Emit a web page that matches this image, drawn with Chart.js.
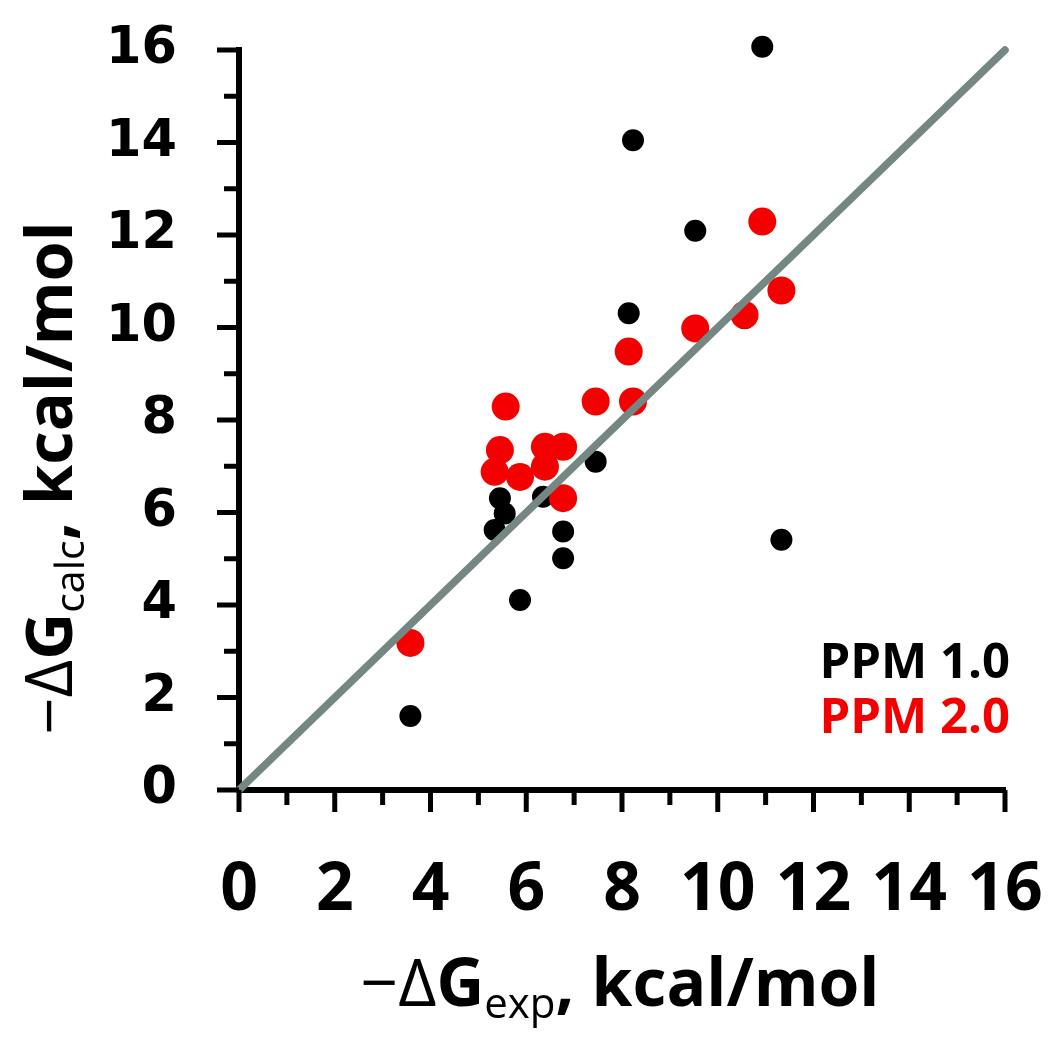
<!DOCTYPE html>
<html>
<head>
<meta charset="utf-8">
<script src="https://cdn.jsdelivr.net/npm/chart.js@4"></script>
<style>
  body { margin: 0; background: #fff; }
  #wrap { width: 1050px; height: 1037px; position: relative; }
</style>
</head>
<body>
<div id="wrap"><canvas id="myChart"></canvas></div>
<script>
// -dG exp / -dG calc, kcal/mol
var ppm1X = [3.58, 5.34, 5.45, 5.55, 5.87, 6.35, 6.77, 6.77, 7.45, 8.14, 8.23, 9.53, 10.56, 10.93, 11.33];
var ppm1Y = [1.60, 5.62, 6.31, 5.98, 4.11, 6.34, 5.59, 5.01, 7.10, 10.31, 14.05, 12.09, 10.20, 16.07, 5.41];
var ppm2X = [3.58, 5.34, 5.45, 5.57, 5.87, 6.39, 6.39, 6.77, 6.77, 7.45, 8.14, 8.23, 9.53, 10.56, 10.93, 11.33];
var ppm2Y = [3.18, 6.88, 7.35, 8.29, 6.77, 7.42, 6.99, 7.42, 6.31, 8.40, 9.48, 8.40, 9.98, 10.27, 12.29, 10.80];
var diagX = [0, 16];
var diagY = [0, 16];
var tickValues = [0, 2, 4, 6, 8, 10, 12, 14, 16];

function pts(xs, ys) {
  return xs.map((x, i) => ({x: x, y: ys[i]}));
}

// minor + major tick marks, drawn from the scales
const axisTicks = {
  id: "axisTicks",
  afterDraw(chart) {
    const ctx = chart.ctx, xs = chart.scales.x, ys = chart.scales.y;
    const x0 = xs.getPixelForValue(0), y0 = ys.getPixelForValue(0);
    ctx.save();
    ctx.strokeStyle = "#000";
    ctx.lineWidth = 5;
    for (let v = 0; v <= 16; v++) {
      const len = v % 2 === 0 ? 22 : 15;
      const px = xs.getPixelForValue(v);
      ctx.beginPath(); ctx.moveTo(px, y0); ctx.lineTo(px, y0 + len); ctx.stroke();
      const py = ys.getPixelForValue(v);
      ctx.beginPath(); ctx.moveTo(x0, py); ctx.lineTo(x0 - len, py); ctx.stroke();
    }
    ctx.restore();
  }
};

function drawTitle(ctx, cx, base, sub, size) {
  const parts = [
    {t: "\u2212\u0394", f: "400 " + size + "px 'Open Sans'", dy: 0},
    {t: "G", f: "700 " + size + "px 'Open Sans'", dy: 0},
    {t: sub, f: "400 " + Math.round(size * 0.63) + "px 'Open Sans'", dy: 12},
    {t: ", kcal/mol", f: "700 " + size + "px 'Open Sans'", dy: 0}
  ];
  let w = 0;
  parts.forEach(p => { ctx.font = p.f; p.w = ctx.measureText(p.t).width; w += p.w; });
  let x = cx - w / 2;
  ctx.fillStyle = "#000";
  ctx.textBaseline = "alphabetic";
  ctx.textAlign = "left";
  parts.forEach(p => { ctx.font = p.f; ctx.fillText(p.t, x, base + p.dy); x += p.w; });
}

const titles = {
  id: "titles",
  afterDraw(chart) {
    const ctx = chart.ctx;
    ctx.save();
    drawTitle(ctx, 620, 1006, "exp", 66);
    ctx.translate(72, 478);
    ctx.rotate(-Math.PI / 2);
    drawTitle(ctx, 0, 0, "calc", 65);
    ctx.restore();

    // legend text
    ctx.save();
    ctx.font = "700 49px 'Open Sans'";
    ctx.textAlign = "right";
    ctx.textBaseline = "alphabetic";
    const ds = chart.data.datasets;
    ctx.fillStyle = ds[1].backgroundColor;
    ctx.fillText(ds[1].label, 1010, 678);
    ctx.fillStyle = ds[2].backgroundColor;
    ctx.fillText(ds[2].label, 1010, 733);
    ctx.restore();
  }
};

new Chart("myChart", {
  type: "scatter",
  data: {
    datasets: [{
      type: "line",
      label: "y = x",
      data: pts(diagX, diagY),
      borderColor: "#748783",
      borderWidth: 7.5,
      borderCapStyle: "round",
      pointRadius: 0,
      fill: false,
      clip: false,
      order: 0
    }, {
      label: "PPM 1.0",
      data: pts(ppm1X, ppm1Y),
      backgroundColor: "#000000",
      borderWidth: 0,
      pointRadius: 11,
      clip: false,
      order: 2
    }, {
      label: "PPM 2.0",
      data: pts(ppm2X, ppm2Y),
      backgroundColor: "#f50000",
      borderWidth: 0,
      pointRadius: 14,
      clip: false,
      order: 1
    }]
  },
  options: {
    responsive: true,
    maintainAspectRatio: false,
    animation: false,
    layout: {padding: {left: 0, top: 50, right: 45, bottom: 0}},
    plugins: {legend: {display: false}, tooltip: {enabled: false}},
    scales: {
      x: {
        type: "linear", min: 0, max: 16,
        afterBuildTicks: s => { s.ticks = tickValues.map(v => ({value: v})); },
        afterFit: s => { s.height = 247; s.paddingLeft = 0; s.paddingRight = 0; },
        grid: {drawOnChartArea: false, drawTicks: false},
        border: {color: "#000", width: 6},
        ticks: {color: "#000", padding: 62, maxRotation: 0,
          font: {family: "'Open Sans'", weight: "bold", size: 66}}
      },
      y: {
        type: "linear", min: 0, max: 16,
        afterBuildTicks: s => { s.ticks = tickValues.map(v => ({value: v})); },
        afterFit: s => { s.width = 239; s.paddingTop = 0; s.paddingBottom = 0; },
        grid: {drawOnChartArea: false, drawTicks: false},
        border: {color: "#000", width: 6},
        ticks: {color: "#000", padding: 62,
          font: {family: "'DejaVu Sans'", weight: "bold", size: 51}}
      }
    }
  },
  plugins: [axisTicks, titles]
});
</script>
</body>
</html>
